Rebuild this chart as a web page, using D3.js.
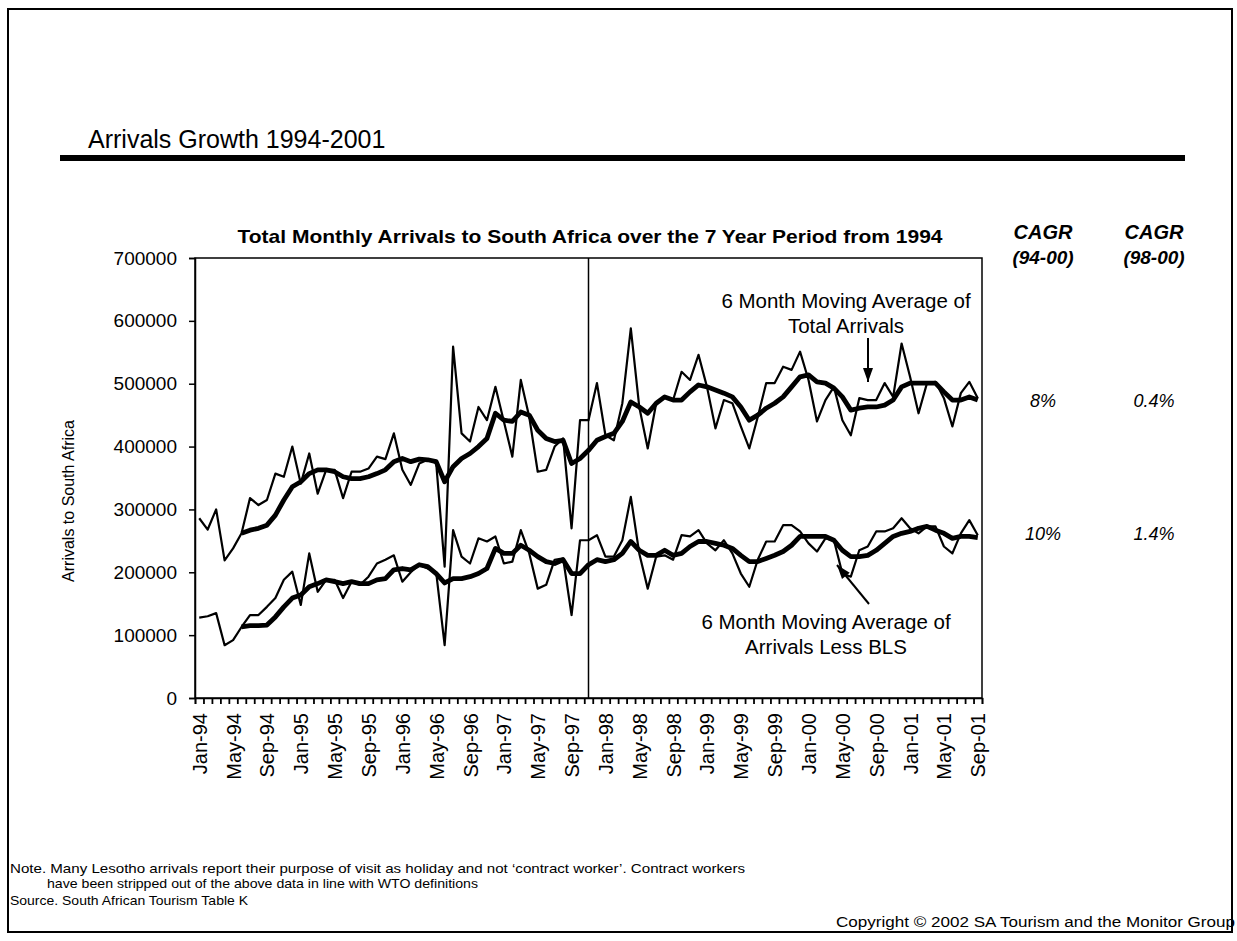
<!DOCTYPE html>
<html>
<head>
<meta charset="utf-8">
<script src="https://cdn.jsdelivr.net/npm/d3@7"></script>
<style>
  html, body { margin: 0; padding: 0; background: #fff; }
  svg { display: block; font-family: "Liberation Sans", Arial, sans-serif; }
</style>
</head>
<body>
<svg id="chart" width="1237" height="941"></svg>
<script>
// Monthly categories, Jan-94 .. Sep-01
const months = [
  "Jan-94","Feb-94","Mar-94","Apr-94","May-94","Jun-94","Jul-94","Aug-94","Sep-94","Oct-94","Nov-94","Dec-94",
  "Jan-95","Feb-95","Mar-95","Apr-95","May-95","Jun-95","Jul-95","Aug-95","Sep-95","Oct-95","Nov-95","Dec-95",
  "Jan-96","Feb-96","Mar-96","Apr-96","May-96","Jun-96","Jul-96","Aug-96","Sep-96","Oct-96","Nov-96","Dec-96",
  "Jan-97","Feb-97","Mar-97","Apr-97","May-97","Jun-97","Jul-97","Aug-97","Sep-97","Oct-97","Nov-97","Dec-97",
  "Jan-98","Feb-98","Mar-98","Apr-98","May-98","Jun-98","Jul-98","Aug-98","Sep-98","Oct-98","Nov-98","Dec-98",
  "Jan-99","Feb-99","Mar-99","Apr-99","May-99","Jun-99","Jul-99","Aug-99","Sep-99","Oct-99","Nov-99","Dec-99",
  "Jan-00","Feb-00","Mar-00","Apr-00","May-00","Jun-00","Jul-00","Aug-00","Sep-00","Oct-00","Nov-00","Dec-00",
  "Jan-01","Feb-01","Mar-01","Apr-01","May-01","Jun-01","Jul-01","Aug-01","Sep-01"
];

// Total monthly arrivals (thousands)
const totalArrivals = [
  286,268,300,219,238,262,318,307,315,357,352,400,
  341,389,325,363,363,318,360,360,365,384,380,421,
  363,339,373,379,374,209,559,421,408,463,442,495,
  440,384,506,447,360,363,400,413,270,442,442,501,
  418,410,469,588,463,397,469,479,474,519,506,546,
  495,429,474,469,432,397,447,501,501,527,522,551,
  506,440,474,495,442,418,477,474,474,501,479,564,
  511,453,501,503,477,432,485,503,477
];

// 6 month moving average of total arrivals (thousands)
const totalMovingAvg = [
  null,null,null,null,null,262,267,270,275,291,315,336,
  344,357,363,363,360,352,349,349,352,357,363,376,
  381,376,380,379,376,344,368,381,389,400,413,453,
  442,440,455,450,426,413,408,410,373,381,394,410,
  416,421,440,471,463,453,469,479,474,474,487,498,
  495,490,485,479,463,442,450,461,469,479,495,511,
  514,503,501,493,479,458,461,463,463,466,474,495,
  501,501,501,501,487,474,474,479,474
];

// Arrivals less BLS (thousands)
const lessBLS = [
  128,130,135,84,92,113,132,132,145,159,188,201,
  148,230,169,188,188,159,185,180,193,214,220,227,
  185,200,212,206,200,84,267,225,214,254,249,257,
  214,217,267,230,174,180,220,222,132,251,251,259,
  225,225,251,320,230,174,225,227,220,259,257,267,
  246,235,251,230,198,177,220,249,249,275,275,265,
  246,233,254,251,198,193,235,241,265,265,270,286,
  270,262,273,273,241,230,262,283,259
];

// 6 month moving average of arrivals less BLS (thousands)
const lessBLSMovingAvg = [
  null,null,null,null,null,113,115,115,116,129,145,159,
  164,177,182,188,185,182,185,182,182,188,190,204,
  206,204,212,209,198,183,190,190,193,198,206,238,
  230,230,243,235,225,217,214,220,198,198,212,220,
  217,220,230,249,235,227,227,235,227,230,241,249,
  249,246,243,238,227,217,217,222,227,233,243,257,
  257,257,257,251,235,225,225,227,235,246,257,262,
  265,270,273,267,262,254,257,257,255
];

const yTicks = [0,100000,200000,300000,400000,500000,600000,700000];
const labelEvery = 4;
const markerMonth = "Nov-97";

const cagrHeaders = [["CAGR","(94-00)"],["CAGR","(98-00)"]];
const cagrTotal = ["8%","0.4%"];
const cagrLess = ["10%","1.4%"];

const svg = d3.select("#chart");

// slide frame and heading
svg.append("rect").attr("x",8).attr("y",9).attr("width",1224).attr("height",923)
  .attr("fill","none").attr("stroke","#000").attr("stroke-width",2);
svg.append("text").attr("x",88).attr("y",148).attr("font-size",25)
  .text("Arrivals Growth 1994-2001");
svg.append("rect").attr("x",60).attr("y",155).attr("width",1125).attr("height",6).attr("fill","#000");

// plot geometry
const plotL = 195, plotR = 982, plotT = 258, plotB = 698;
const n = months.length;
const xPos = d3.scaleLinear().domain([0, n]).range([plotL, plotR]);
const x = m => xPos(months.indexOf(m) + 0.5);
const y = d3.scaleLinear().domain([0, 700000]).range([plotB, plotT]);

const g = svg.append("g");

// plot area frame
g.append("rect").attr("x",plotL).attr("y",plotT).attr("width",plotR-plotL).attr("height",plotB-plotT)
  .attr("fill","none").attr("stroke","#000").attr("stroke-width",1.5);

// y axis
const yAxis = g.append("g").attr("transform",`translate(${plotL},0)`)
  .call(d3.axisLeft(y).tickValues(yTicks).tickSize(6).tickPadding(12).tickFormat(d3.format("d")));
yAxis.select(".domain").attr("stroke-width",1.5);
yAxis.selectAll(".tick line").attr("stroke-width",1.5);
yAxis.selectAll("text").attr("font-size",19).attr("font-family","Liberation Sans, Arial, sans-serif");

// x axis: a tick at every month boundary
const xTickAxis = g.append("g").attr("transform",`translate(0,${plotB})`)
  .call(d3.axisBottom(xPos).tickValues(d3.range(0, n + 1)).tickSize(6).tickFormat(""));
xTickAxis.select(".domain").attr("stroke-width",1.5);
xTickAxis.selectAll(".tick line").attr("stroke-width",1.8);

// x labels every 4 months
const labelled = months.filter((m, i) => i % labelEvery === 0);
const xLab = g.append("g").attr("transform",`translate(0,${plotB})`)
  .call(d3.axisBottom(d3.scalePoint().domain(months).range([xPos(0.5), xPos(n - 0.5)]))
    .tickValues(labelled).tickSize(0).tickPadding(0));
xLab.select(".domain").remove();
xLab.selectAll("text")
  .attr("font-size",20).attr("font-family","Liberation Sans, Arial, sans-serif")
  .attr("text-anchor","end").attr("transform","translate(0,15) rotate(-90)")
  .attr("x",0).attr("y",0).attr("dy","0.35em");

// axis title
svg.append("text").attr("transform","translate(68,501) rotate(-90)")
  .attr("text-anchor","middle").attr("dy","0.35em").attr("font-size",16)
  .text("Arrivals to South Africa");

// chart title
svg.append("text").attr("x",590).attr("y",243).attr("text-anchor","middle")
  .attr("font-size",19).attr("font-weight","bold")
  .attr("textLength",705).attr("lengthAdjust","spacingAndGlyphs")
  .text("Total Monthly Arrivals to South Africa over the 7 Year Period from 1994");

// vertical marker
g.append("line").attr("x1",x(markerMonth)).attr("x2",x(markerMonth))
  .attr("y1",plotT).attr("y2",plotB).attr("stroke","#000").attr("stroke-width",1.5);

// series
const line = d3.line()
  .defined(d => d.v != null)
  .x(d => x(d.m))
  .y(d => y(d.v * 1000));
const toPts = arr => arr.map((v, i) => ({ m: months[i], v }));
const series = [
  { data: totalArrivals, w: 2.2 },
  { data: lessBLS, w: 2.2 },
  { data: totalMovingAvg, w: 4.8 },
  { data: lessBLSMovingAvg, w: 4.8 }
];
series.forEach(s => {
  g.append("path").attr("d", line(toPts(s.data)))
    .attr("fill","none").attr("stroke","#000").attr("stroke-width",s.w)
    .attr("stroke-linejoin","round");
});

// annotations
const ann = (lines, cx, y0) => lines.forEach((t, i) =>
  svg.append("text").attr("x",cx).attr("y",y0 + i * 24.5).attr("text-anchor","middle")
    .attr("font-size",20.5).text(t));
ann(["6 Month Moving Average of","Total Arrivals"], 846, 308);
ann(["6 Month Moving Average of","Arrivals Less BLS"], 826, 629);

const arrow = (x1, y1, x2, y2) => {
  svg.append("line").attr("x1",x1).attr("y1",y1).attr("x2",x2).attr("y2",y2)
    .attr("stroke","#000").attr("stroke-width",2);
  const a = Math.atan2(y2 - y1, x2 - x1), L = 14, W = 5;
  const bx = x2 - L * Math.cos(a), by = y2 - L * Math.sin(a);
  const px = -Math.sin(a) * W, py = Math.cos(a) * W;
  svg.append("path").attr("d",`M${x2},${y2}L${bx+px},${by+py}L${bx-px},${by-py}Z`).attr("fill","#000");
};
arrow(868, 338, 868, 382);
arrow(869, 604, 837, 565);

// CAGR columns
const cagrX = [1043, 1154];
cagrHeaders.forEach((h, i) => {
  svg.append("text").attr("x",cagrX[i]).attr("y",239).attr("text-anchor","middle")
    .attr("font-size",20).attr("font-weight","bold").attr("font-style","italic").text(h[0]);
  svg.append("text").attr("x",cagrX[i]).attr("y",264).attr("text-anchor","middle")
    .attr("font-size",19).attr("font-weight","bold").attr("font-style","italic").text(h[1]);
  svg.append("text").attr("x",cagrX[i]).attr("y",407).attr("text-anchor","middle")
    .attr("font-size",18).attr("font-style","italic").text(cagrTotal[i]);
  svg.append("text").attr("x",cagrX[i]).attr("y",540).attr("text-anchor","middle")
    .attr("font-size",18).attr("font-style","italic").text(cagrLess[i]);
});

// footnotes
const foot = (t, x0, y0, len, size, anchor) =>
  svg.append("text").attr("x",x0).attr("y",y0).attr("font-size",size)
    .attr("text-anchor",anchor || "start")
    .attr("textLength",len).attr("lengthAdjust","spacingAndGlyphs").text(t);
foot("Note. Many Lesotho arrivals report their purpose of visit as holiday and not \u2018contract worker\u2019.  Contract workers", 10, 873, 735, 13);
foot("have been stripped out of the above data in line with WTO definitions", 47, 888, 431, 13);
foot("Source. South African Tourism Table K", 10, 905, 238, 13);
foot("Copyright \u00A9 2002 SA Tourism and the Monitor Group", 1235, 927, 399, 14, "end");
</script>
</body>
</html>
